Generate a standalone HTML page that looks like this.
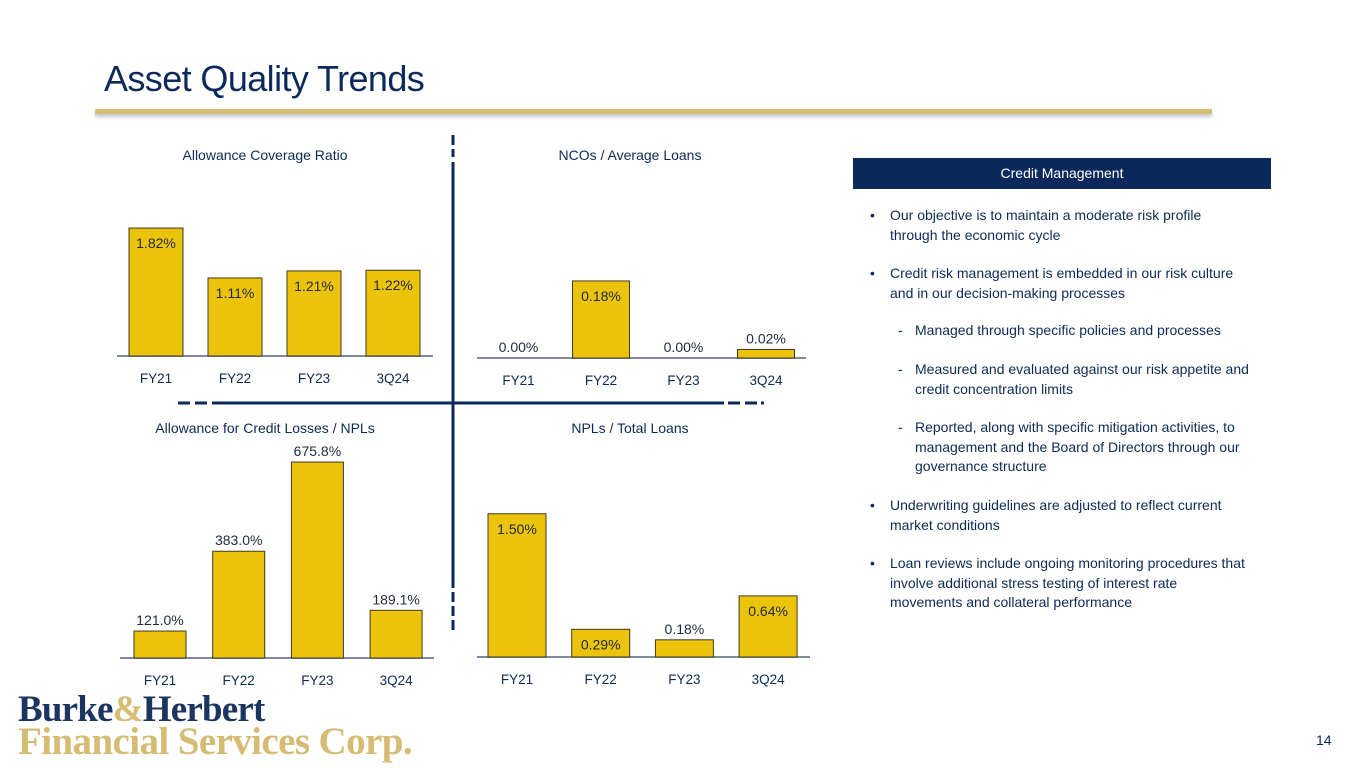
<!DOCTYPE html>
<html><head><meta charset="utf-8">
<style>
body{margin:0;width:1365px;height:768px;background:#fff;overflow:hidden;position:relative;font-family:"Liberation Sans",sans-serif;color:#0b2a5b}
.abs{position:absolute}
#title{left:104px;top:58px;font-size:36px;letter-spacing:-0.6px;color:#0b2a5b}
#rule{left:95px;top:109px;width:1117px;height:5px;background:#d8bd72;box-shadow:0 3px 3px rgba(90,100,150,.35)}
.pt{font-size:14px;color:#0d2a55;text-align:center;width:300px}
#cm{left:853px;top:158px;width:418px;height:31px;background:#0b2a5b;color:#fff;font-size:14px;text-align:center;line-height:31px}
.tx{font-size:14px;line-height:19.6px;color:#0d2a55}
.bul{left:870px;width:378px}
.bul span{position:absolute;left:0}
.bul div{padding-left:20px}
.sub{left:898px;width:362px}
.sub span{position:absolute;left:0}
.sub div{padding-left:17px}
#logo1{left:18px;top:688px;font-family:"Liberation Serif",serif;font-weight:bold;font-size:37px;color:#1b3460;letter-spacing:-0.8px}
#logo2{left:18px;top:719px;font-family:"Liberation Serif",serif;font-weight:bold;font-size:39px;color:#d6bb73;letter-spacing:-0.6px}
#pg{left:1316px;top:732px;font-size:14px;color:#0b2a5b}
</style></head><body>
<div class="abs" id="title">Asset Quality Trends</div>
<div class="abs" id="rule"></div>

<div class="abs pt" style="left:115px;top:147px">Allowance Coverage Ratio</div>
<div class="abs pt" style="left:480px;top:147px">NCOs / Average Loans</div>
<div class="abs pt" style="left:115px;top:420px">Allowance for Credit Losses / NPLs</div>
<div class="abs pt" style="left:480px;top:420px">NPLs / Total Loans</div>

<svg class="abs" style="left:0;top:0" width="1365" height="768" id="charts">
  <g stroke="#0b2a5b" stroke-width="3" fill="none">
    <line x1="453" y1="135" x2="453" y2="145"/><line x1="453" y1="149" x2="453" y2="157"/>
    <line x1="453" y1="162" x2="453" y2="588"/>
    <line x1="453" y1="592" x2="453" y2="602"/><line x1="453" y1="606" x2="453" y2="616"/><line x1="453" y1="620" x2="453" y2="630"/>
    <line x1="178" y1="403" x2="190" y2="403"/><line x1="195" y1="403" x2="207" y2="403"/>
    <line x1="212" y1="403" x2="724" y2="403"/>
    <line x1="728" y1="403" x2="740" y2="403"/><line x1="745" y1="403" x2="757" y2="403"/><line x1="761" y1="403" x2="764" y2="403"/>
  </g>
</svg>

<div class="abs" id="cm">Credit Management</div>
<div class="abs tx bul" style="top:206px"><span>•</span><div>Our objective is to maintain a moderate risk profile through the economic cycle</div></div>
<div class="abs tx bul" style="top:264px"><span>•</span><div>Credit risk management is embedded in our risk culture and in our decision-making processes</div></div>
<div class="abs tx sub" style="top:321px"><span>-</span><div>Managed through specific policies and processes</div></div>
<div class="abs tx sub" style="top:360px"><span>-</span><div>Measured and evaluated against our risk appetite and credit concentration limits</div></div>
<div class="abs tx sub" style="top:418px"><span>-</span><div>Reported, along with specific mitigation activities, to management and the Board of Directors through our governance structure</div></div>
<div class="abs tx bul" style="top:496px"><span>•</span><div>Underwriting guidelines are adjusted to reflect current market conditions</div></div>
<div class="abs tx bul" style="top:554px"><span>•</span><div>Loan reviews include ongoing monitoring procedures that involve additional stress testing of interest rate movements and collateral performance</div></div>

<div class="abs" id="logo1">Burke<span style="color:#d6bb73">&amp;</span>Herbert</div>
<div class="abs" id="logo2">Financial Services Corp.</div>
<div class="abs" id="pg">14</div>

<script>
const categories = ["FY21","FY22","FY23","3Q24"];
const acrValues = [1.82,1.11,1.21,1.22];
const acrLabels = ["1.82%","1.11%","1.21%","1.22%"];
const ncoValues = [0.00,0.18,0.00,0.02];
const ncoLabels = ["0.00%","0.18%","0.00%","0.02%"];
const aclValues = [121.0,383.0,675.8,189.1];
const aclLabels = ["121.0%","383.0%","675.8%","189.1%"];
const nplValues = [1.50,0.29,0.18,0.64];
const nplLabels = ["1.50%","0.29%","0.18%","0.64%"];

const NS="http://www.w3.org/2000/svg";
const svg=document.getElementById('charts');
function mk(t,a){const e=document.createElementNS(NS,t);for(const k in a)e.setAttribute(k,a[k]);return e;}

function drawChart(name,vals,labels,cfg){
  const g=mk('g',{});
  
  
  svg.appendChild(g);
  const min=cfg.min||0;
  const xs=i=>cfg.x0+i*cfg.step;
  const ys=v=>cfg.base-(v-min)*cfg.scale;
  const ax=mk('line',{x1:cfg.ax0,x2:cfg.ax1,y1:cfg.base,y2:cfg.base,stroke:'#7d8ca3','stroke-width':2});
  
  
  g.appendChild(ax);
  vals.forEach((v,i)=>{
    const h=cfg.base-ys(v);
    if(h>0.5){
      const r=mk('rect',{x:xs(i),y:ys(v),width:cfg.w,height:h,fill:'#ebc30b',stroke:'#3e3a25','stroke-width':1});
      
      
      g.appendChild(r);
    }
    const cx=xs(i)+cfg.w/2;
    const inside=cfg.inside(v,h);
    const ly=inside?ys(v)+20:ys(v)-6;
    const t=mk('text',{x:cx,y:ly,'text-anchor':'middle','font-size':14,fill:'#1f2a3a','font-family':'Liberation Sans, sans-serif'});
    t.textContent=labels[i];
    
    
    g.appendChild(t);
    const c=mk('text',{x:cx,y:cfg.base+27,'text-anchor':'middle','font-size':13.5,fill:'#0d2a55','font-family':'Liberation Sans, sans-serif'});
    c.textContent=categories[i];
    
    
    g.appendChild(c);
  });
}
drawChart('allowance-coverage-chart',acrValues,acrLabels,{x0:129,step:79,w:54,base:356,scale:70.3,ax0:117,ax1:433,inside:(v,h)=>h>30});
drawChart('nco-chart',ncoValues,ncoLabels,{x0:490,step:82.5,w:57,base:358,scale:428,ax0:477,ax1:806,inside:(v,h)=>h>30});
drawChart('acl-npl-chart',aclValues,aclLabels,{x0:134,step:78.7,w:52,base:658,scale:0.3046,min:32.5,ax0:120,ax1:434,inside:(v,h)=>false});
drawChart('npl-chart',nplValues,nplLabels,{x0:488,step:83.7,w:58,base:657,scale:95.5,ax0:477,ax1:810,inside:(v,h)=>h>24});
</script>
</body></html>
